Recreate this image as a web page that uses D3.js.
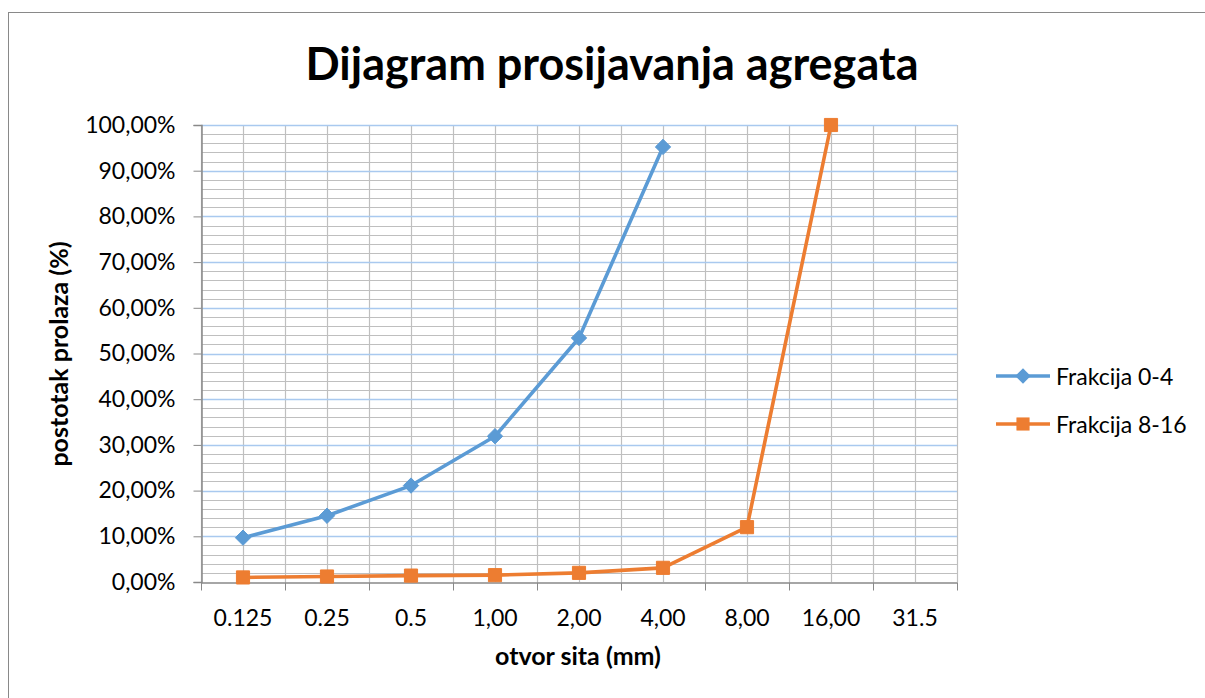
<!DOCTYPE html>
<html>
<head>
<meta charset="utf-8">
<script src="https://cdn.jsdelivr.net/npm/d3@7"></script>
<style>
  body { margin: 0; background: #fff; }
  text { font-family: Lato, "Open Sans", sans-serif; fill: #000; }
</style>
</head>
<body>
<svg width="1205" height="698"></svg>
<script>
// sieve openings (categories) and percentage passing for each fraction
var categories = ["0.125", "0.25", "0.5", "1,00", "2,00", "4,00", "8,00", "16,00", "31.5"];
var frakcija04 = [9.7, 14.5, 21.1, 31.9, 53.4, 95.2, null, null, null];
var frakcija816 = [1.0, 1.2, 1.4, 1.5, 2.0, 3.1, 12.0, 100.0, null];
var yTicks = [0, 10, 20, 30, 40, 50, 60, 70, 80, 90, 100];
var seriesNames = ["Frakcija 0-4", "Frakcija 8-16"];

var svg = d3.select("svg");
var plotLeft = 201, plotRight = 957, plotTop = 125, plotBottom = 582;

// chart border
svg.append("rect")
  .attr("x", 8.5).attr("y", 12.5)
  .attr("width", 1300).attr("height", 800)
  .attr("fill", "#fff")
  .attr("stroke", "#898989");

var x = d3.scaleBand().domain(categories).range([plotLeft, plotRight]).paddingInner(0).paddingOuter(0);
var y = d3.scaleLinear().domain([0, 100]).range([plotBottom, plotTop]);
var cx = function(c) { return x(c) + x.bandwidth() / 2; };

var grid = svg.append("g");

// minor horizontal gridlines every 2%
grid.selectAll(".minor-h")
  .data(d3.range(0, 101, 2).filter(function(d) { return d % 10 !== 0; }))
  .enter().append("line")
  .attr("x1", plotLeft).attr("x2", plotRight)
  .attr("y1", function(d) { return Math.round(y(d)) + 0.5; })
  .attr("y2", function(d) { return Math.round(y(d)) + 0.5; })
  .attr("stroke", "#bfbfbf").attr("stroke-width", 1.2);

// vertical gridlines at category edges and centres
var vlines = [];
categories.forEach(function(c) { vlines.push(x(c)); vlines.push(cx(c)); });
vlines.push(plotRight);
grid.selectAll(".v")
  .data(vlines)
  .enter().append("line")
  .attr("x1", function(d) { return Math.round(d) + 0.5; })
  .attr("x2", function(d) { return Math.round(d) + 0.5; })
  .attr("y1", plotTop).attr("y2", plotBottom)
  .attr("stroke", "#bfbfbf").attr("stroke-width", 1.2);

// major horizontal gridlines
grid.selectAll(".major-h")
  .data(yTicks.filter(function(d) { return d > 0; }))
  .enter().append("line")
  .attr("x1", plotLeft).attr("x2", plotRight)
  .attr("y1", function(d) { return Math.round(y(d)) + 0.5; })
  .attr("y2", function(d) { return Math.round(y(d)) + 0.5; })
  .attr("stroke", "#a9c9ef").attr("stroke-width", 1.5);

// y axis
var yAxis = svg.append("g")
  .attr("transform", "translate(" + (plotLeft + 0.5) + ",0)")
  .call(d3.axisLeft(y).tickValues(yTicks).tickSize(8).tickPadding(18)
    .tickFormat(function(d) { return d.toFixed(2).replace(".", ",") + "%"; }));
yAxis.select(".domain").attr("stroke", "#898989").attr("stroke-width", 1.5);
yAxis.selectAll(".tick line").attr("stroke", "#898989");
yAxis.selectAll("text").attr("font-size", "23px").attr("font-family", "Lato, sans-serif").attr("fill", "#000");

// x axis, ticks on category boundaries
var xAxis = svg.append("g")
  .attr("transform", "translate(0," + (plotBottom + 0.5) + ")")
  .call(d3.axisBottom(x).tickSize(0));
xAxis.select(".domain").attr("stroke", "#898989").attr("stroke-width", 1.5);
xAxis.selectAll("text")
  .attr("dy", null).attr("y", 43)
  .attr("font-size", "23px").attr("font-family", "Lato, sans-serif").attr("fill", "#000");
xAxis.selectAll(".edge")
  .data(categories.map(function(c) { return x(c); }).concat([plotRight]))
  .enter().append("line")
  .attr("x1", function(d) { return Math.round(d) + 0.5; })
  .attr("x2", function(d) { return Math.round(d) + 0.5; })
  .attr("y1", 0).attr("y2", 8)
  .attr("stroke", "#898989");

// series
var colors = ["#5b9bd5", "#ed7d31"];
var allSeries = [frakcija04, frakcija816];
var line = d3.line()
  .defined(function(d) { return d != null; })
  .x(function(d, i) { return cx(categories[i]); })
  .y(function(d) { return y(d); });

allSeries.forEach(function(vals, s) {
  svg.append("path")
    .datum(vals)
    .attr("fill", "none")
    .attr("stroke", colors[s])
    .attr("stroke-width", 3.6)
    .attr("stroke-linejoin", "round")
    .attr("d", line);

  var pts = vals.map(function(v, i) { return { v: v, c: categories[i] }; })
    .filter(function(p) { return p.v != null; });

  svg.selectAll(".m" + s)
    .data(pts)
    .enter().append("path")
    .attr("transform", function(p) { return "translate(" + cx(p.c) + "," + y(p.v) + ")"; })
    .attr("d", d3.symbol().type(s === 0 ? d3.symbolDiamond2 : d3.symbolSquare2).size(s === 0 ? 150 : 220))
    .attr("fill", colors[s])
    .attr("stroke", colors[s])
    .attr("stroke-width", 1);
});

// legend
var legend = svg.append("g");
seriesNames.forEach(function(name, s) {
  var ly = 376 + s * 48;
  legend.append("line")
    .attr("x1", 996).attr("x2", 1050).attr("y1", ly).attr("y2", ly)
    .attr("stroke", colors[s]).attr("stroke-width", 3.6);
  legend.append("path")
    .attr("transform", "translate(1023," + ly + ")")
    .attr("d", d3.symbol().type(s === 0 ? d3.symbolDiamond2 : d3.symbolSquare2).size(s === 0 ? 150 : 220))
    .attr("fill", colors[s]);
  legend.append("text")
    .attr("x", 1056).attr("y", ly + 8.5)
    .attr("font-size", "23px")
    .text(name);
});

// titles
svg.append("text")
  .attr("x", 612).attr("y", 80)
  .attr("text-anchor", "middle")
  .attr("font-size", "45px")
  .attr("font-weight", "bold")
  .text("Dijagram prosijavanja agregata");

svg.append("text")
  .attr("x", 578).attr("y", 665)
  .attr("text-anchor", "middle")
  .attr("font-size", "25px")
  .attr("font-weight", "bold")
  .text("otvor sita (mm)");

svg.append("text")
  .attr("transform", "translate(68,354) rotate(-90)")
  .attr("text-anchor", "middle")
  .attr("font-size", "25px")
  .attr("font-weight", "bold")
  .text("postotak prolaza (%)");
</script>
</body>
</html>
